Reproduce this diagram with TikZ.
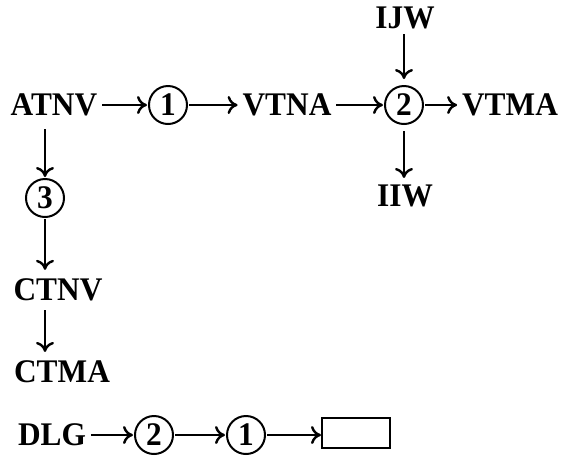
\documentclass[tikz,border=0pt]{standalone}
\usepackage{fontspec}
\newfontfamily\lblfont{Liberation Serif}[FakeStretch=0.95]
\usetikzlibrary{arrows.meta}
\tikzset{
  lbl/.style={font=\lblfont\fontsize{16.5}{18}\selectfont\bfseries, inner sep=1.5pt, outer sep=1pt},
  stage/.style={lbl, draw, circle, line width=1pt, minimum size=19pt, inner sep=0pt, outer sep=1pt},
  flow/.style={-{To[length=5pt,width=9pt]}, line width=1.2pt},
}
\begin{document}
\begin{tikzpicture}[x=0.5pt,y=-0.5pt]
\useasboundingbox (0,0) rectangle (568,457);
% top row
\node[lbl] (atnv) at (54,105) {ATNV};
\node[stage] (s1) at (168,105) {1};
\node[lbl] (vtna) at (287,105) {VTNA};
\node[stage] (s2) at (404,105) {2};
\node[lbl] (vtma) at (510,105) {VTMA};
\node[lbl] (ijw) at (405,18) {IJW};
\node[lbl] (iiw) at (405,196) {IIW};
% left column
\node[stage] (s3) at (45,198) {3};
\node[lbl] (ctnv) at (58,290) {CTNV};
\node[lbl] (ctma) at (62,372) {CTMA};
% bottom row
\node[lbl] (dlg) at (52,435) {DLG};
\node[stage] (b2) at (154,435) {2};
\node[stage] (b1) at (246,435) {1};
\node[draw, line width=1pt, minimum width=34pt, minimum height=15pt] (blank) at (356,433) {};
% arrows
\draw[flow] (atnv) -- (s1);
\draw[flow] (s1) -- (vtna);
\draw[flow] (vtna) -- (s2);
\draw[flow] (s2) -- (vtma);
\draw[flow, shorten >=2.5pt] (ijw.south -| s2) -- (s2);
\draw[flow, shorten <=2.5pt, shorten >=1pt] (s2) -- (s2 |- iiw.north);
\draw[flow] ([yshift=-4pt]atnv.south -| s3) -- (s3);
\draw[flow] (s3) -- ([yshift=2pt]s3 |- ctnv.north);
\draw[flow] ([yshift=-2pt]ctnv.south -| s3) -- ([yshift=2pt]s3 |- ctma.north);
\draw[flow] (dlg) -- (b2);
\draw[flow] (b2) -- (b1);
\draw[flow] (b1) -- (b1 -| blank.west);
\end{tikzpicture}
\end{document}
